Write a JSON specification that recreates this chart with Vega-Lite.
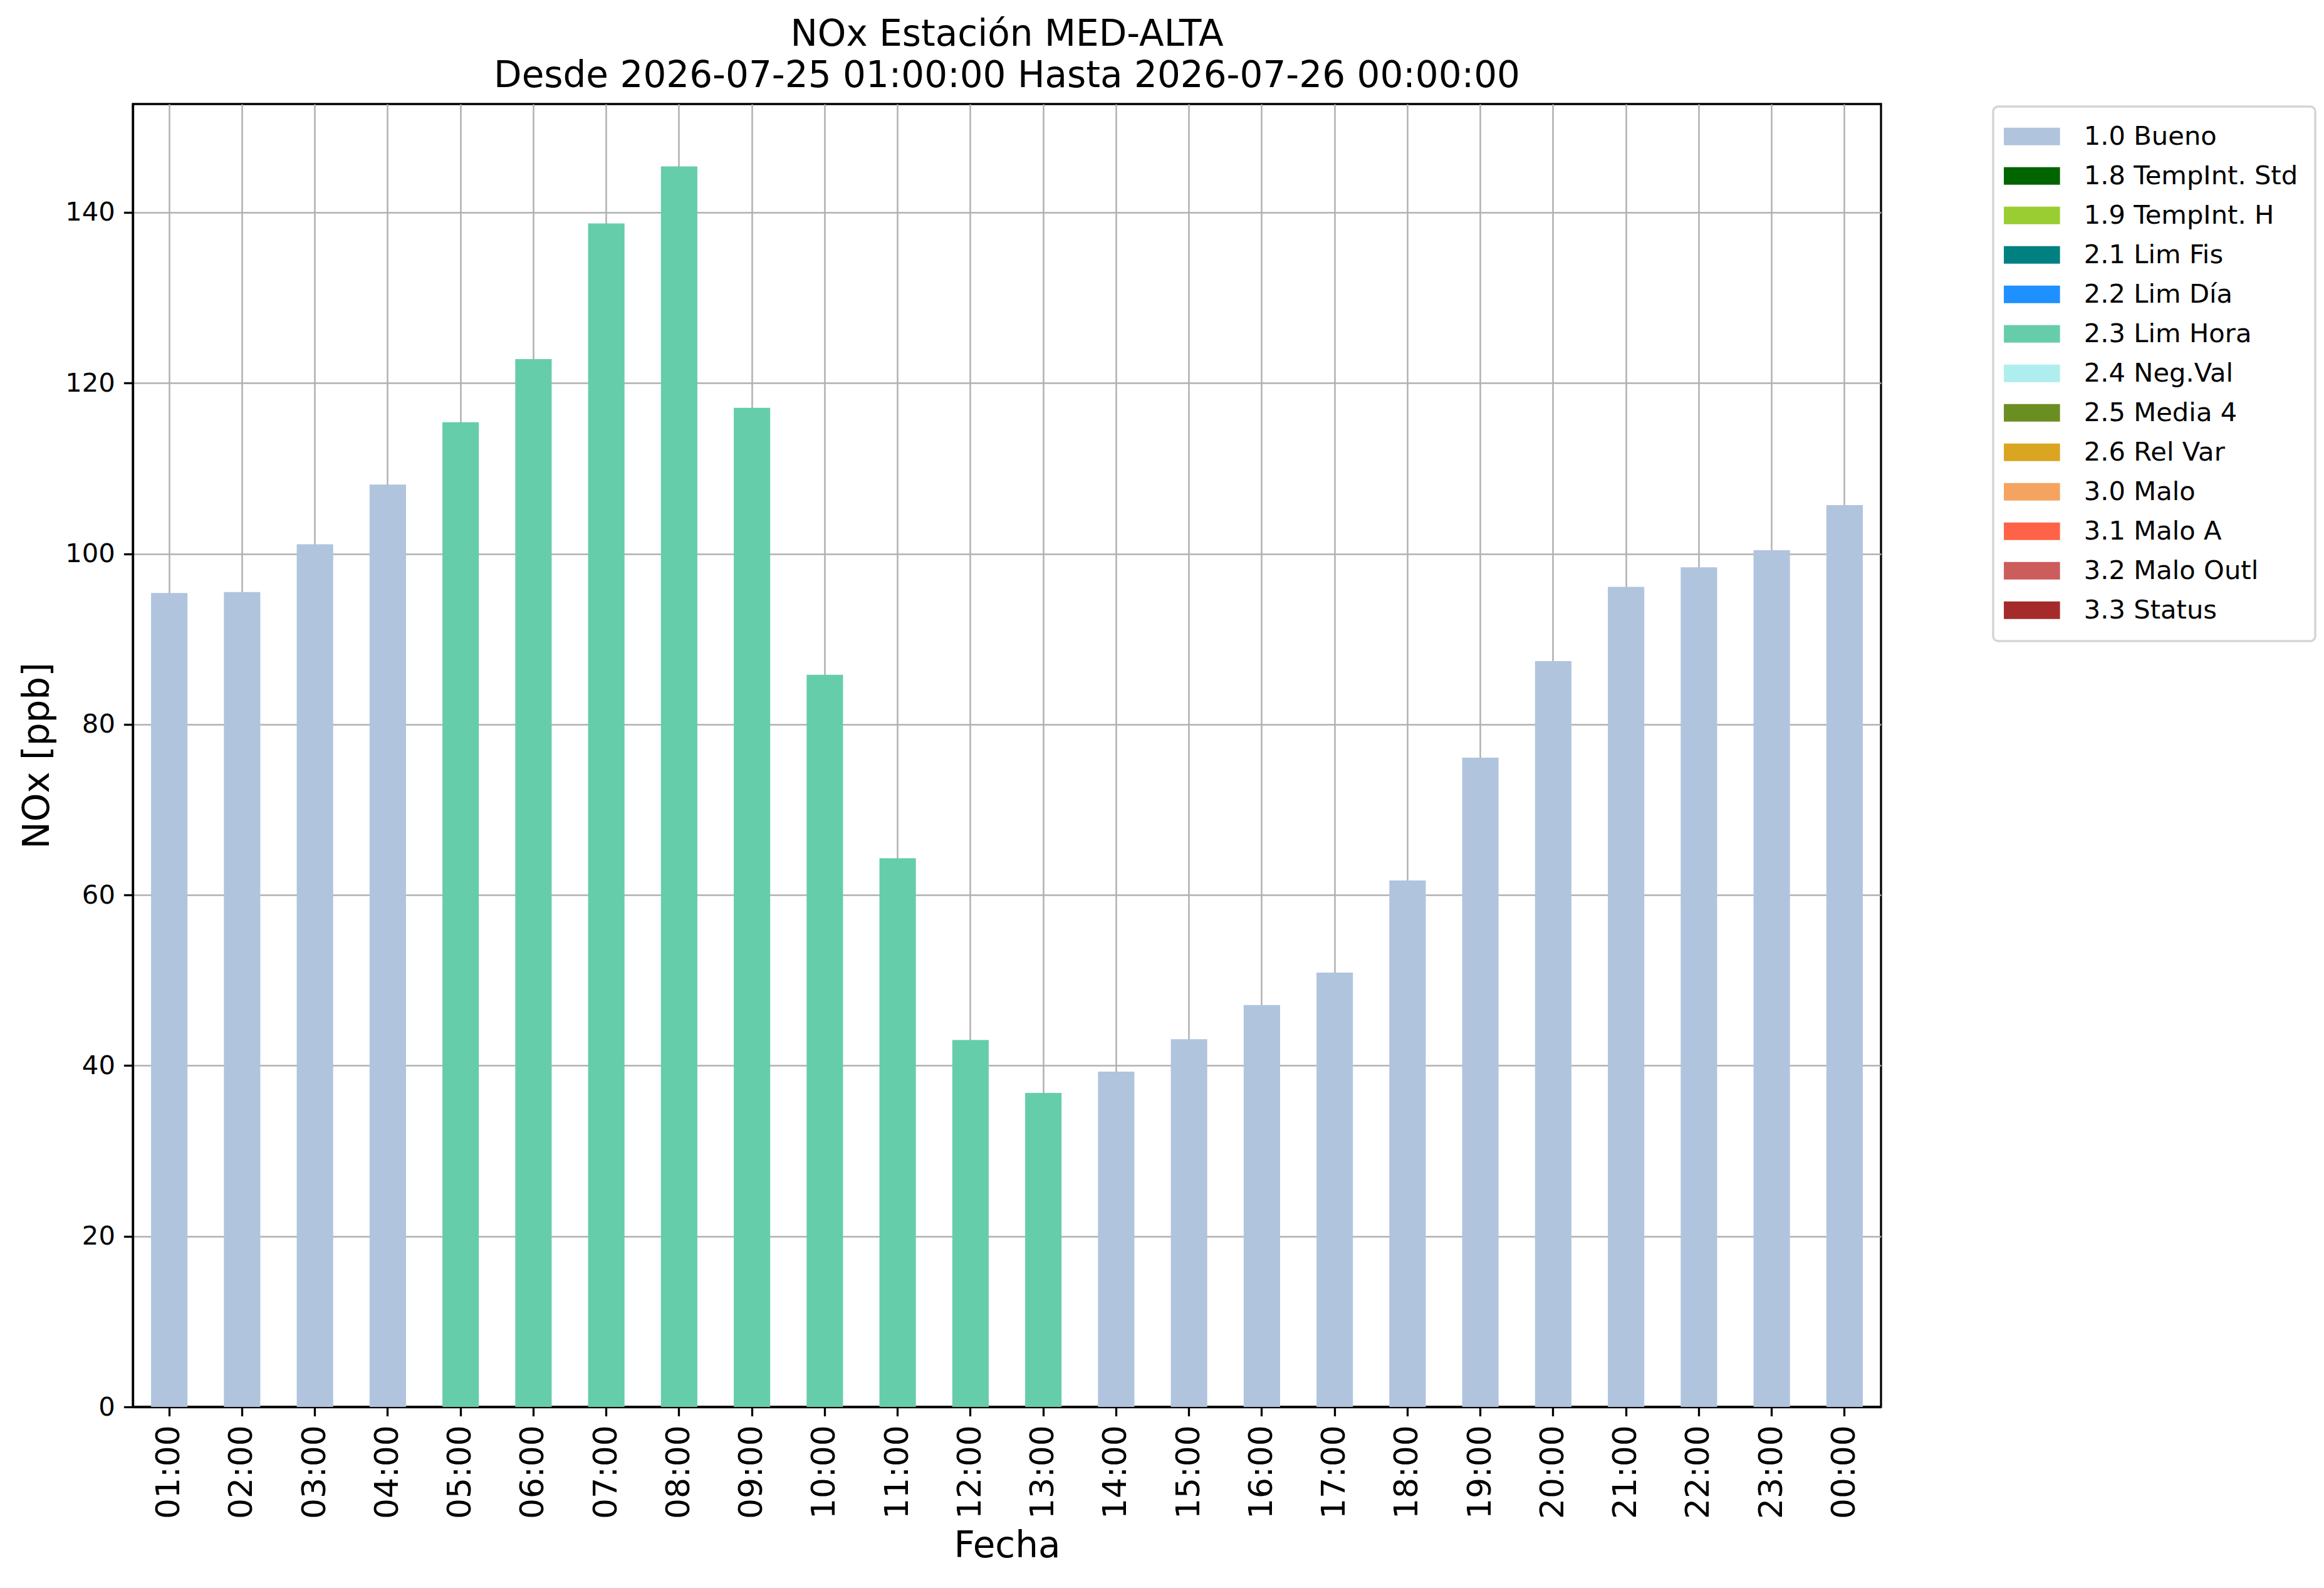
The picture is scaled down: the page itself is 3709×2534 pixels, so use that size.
{
  "$schema": "https://vega.github.io/schema/vega-lite/v6.json",
  "autosize": {"type": "none"},
  "padding": {"left": 212, "top": 166, "right": 707, "bottom": 289},
  "width": 2790,
  "height": 2079,
  "background": "white",
  "title": {
    "text": ["NOx Estación MED-ALTA", "Desde 2026-07-25 01:00:00 Hasta 2026-07-26 00:00:00"],
    "font": "DejaVu Sans",
    "fontSize": 58,
    "fontWeight": "normal",
    "lineHeight": 66,
    "color": "black",
    "anchor": "middle",
    "frame": "group",
    "baseline": "alphabetic",
    "offset": -31
  },
  "data": {
    "values": [
      {"hora": "01:00", "valor": 95.4, "flag": "1.0 Bueno"},
      {"hora": "02:00", "valor": 95.5, "flag": "1.0 Bueno"},
      {"hora": "03:00", "valor": 101.1, "flag": "1.0 Bueno"},
      {"hora": "04:00", "valor": 108.1, "flag": "1.0 Bueno"},
      {"hora": "05:00", "valor": 115.4, "flag": "2.3 Lim Hora"},
      {"hora": "06:00", "valor": 122.8, "flag": "2.3 Lim Hora"},
      {"hora": "07:00", "valor": 138.7, "flag": "2.3 Lim Hora"},
      {"hora": "08:00", "valor": 145.4, "flag": "2.3 Lim Hora"},
      {"hora": "09:00", "valor": 117.1, "flag": "2.3 Lim Hora"},
      {"hora": "10:00", "valor": 85.8, "flag": "2.3 Lim Hora"},
      {"hora": "11:00", "valor": 64.3, "flag": "2.3 Lim Hora"},
      {"hora": "12:00", "valor": 43.0, "flag": "2.3 Lim Hora"},
      {"hora": "13:00", "valor": 36.8, "flag": "2.3 Lim Hora"},
      {"hora": "14:00", "valor": 39.3, "flag": "1.0 Bueno"},
      {"hora": "15:00", "valor": 43.1, "flag": "1.0 Bueno"},
      {"hora": "16:00", "valor": 47.1, "flag": "1.0 Bueno"},
      {"hora": "17:00", "valor": 50.9, "flag": "1.0 Bueno"},
      {"hora": "18:00", "valor": 61.7, "flag": "1.0 Bueno"},
      {"hora": "19:00", "valor": 76.1, "flag": "1.0 Bueno"},
      {"hora": "20:00", "valor": 87.4, "flag": "1.0 Bueno"},
      {"hora": "21:00", "valor": 96.1, "flag": "1.0 Bueno"},
      {"hora": "22:00", "valor": 98.4, "flag": "1.0 Bueno"},
      {"hora": "23:00", "valor": 100.4, "flag": "1.0 Bueno"},
      {"hora": "00:00", "valor": 105.7, "flag": "1.0 Bueno"}
    ]
  },
  "mark": {"type": "bar"},
  "encoding": {
    "x": {
      "field": "hora",
      "type": "nominal",
      "sort": null,
      "title": "Fecha",
      "scale": {"paddingInner": 0.5, "paddingOuter": 0.25},
      "axis": {
        "labelAngle": 270,
        "labelFontSize": 52,
        "labelPadding": 14,
        "bandPosition": 0.5,
        "grid": true,
        "titlePadding": 15
      }
    },
    "y": {
      "field": "valor",
      "type": "quantitative",
      "title": "NOx [ppb]",
      "scale": {"domain": [0, 152.7], "nice": false, "zero": true},
      "axis": {
        "values": [0, 20, 40, 60, 80, 100, 120, 140],
        "labelFontSize": 41.7,
        "labelPadding": 14,
        "grid": true,
        "titlePadding": 14
      }
    },
    "color": {
      "field": "flag",
      "type": "nominal",
      "scale": {
        "domain": ["1.0 Bueno", "1.8 TempInt. Std", "1.9 TempInt. H", "2.1 Lim Fis", "2.2 Lim Día", "2.3 Lim Hora", "2.4 Neg.Val", "2.5 Media 4", "2.6 Rel Var", "3.0 Malo", "3.1 Malo A", "3.2 Malo Outl", "3.3 Status"],
        "range": ["#b0c4de", "#006400", "#9acd32", "#008080", "#1e90ff", "#66cdaa", "#afeeee", "#6b8e23", "#daa520", "#f4a460", "#ff6347", "#cd5c5c", "#a52a2a"]
      },
      "legend": {
        "orient": "none",
        "legendX": 2969,
        "legendY": 4,
        "title": null,
        "labelFont": "DejaVu Sans",
        "labelFontSize": 41.7,
        "labelColor": "black",
        "labelLimit": 0,
        "symbolType": "M-3.2,-1L3.2,-1L3.2,1L-3.2,1Z",
        "symbolSize": 784,
        "symbolOffset": 14,
        "symbolStrokeWidth": 0,
        "symbolOpacity": 1,
        "labelOffset": 62,
        "rowPadding": 20,
        "padding": 27,
        "strokeColor": "#d5d5d5",
        "cornerRadius": 8,
        "fillColor": "white"
      }
    }
  },
  "config": {
    "font": "DejaVu Sans",
    "view": {"stroke": "black", "strokeWidth": 3.3},
    "legend": {"strokeWidth": 3.5},
    "axis": {
      "zindex": 1,
      "labelFont": "DejaVu Sans",
      "labelColor": "black",
      "titleFont": "DejaVu Sans",
      "titleFontSize": 58,
      "titleFontWeight": "normal",
      "titleColor": "black",
      "domainColor": "black",
      "domainWidth": 3.3,
      "tickColor": "black",
      "tickWidth": 3.3,
      "tickSize": 14.6,
      "gridColor": "#b0b0b0",
      "gridWidth": 2.5,
      "gridOpacity": 1
    }
  }
}
